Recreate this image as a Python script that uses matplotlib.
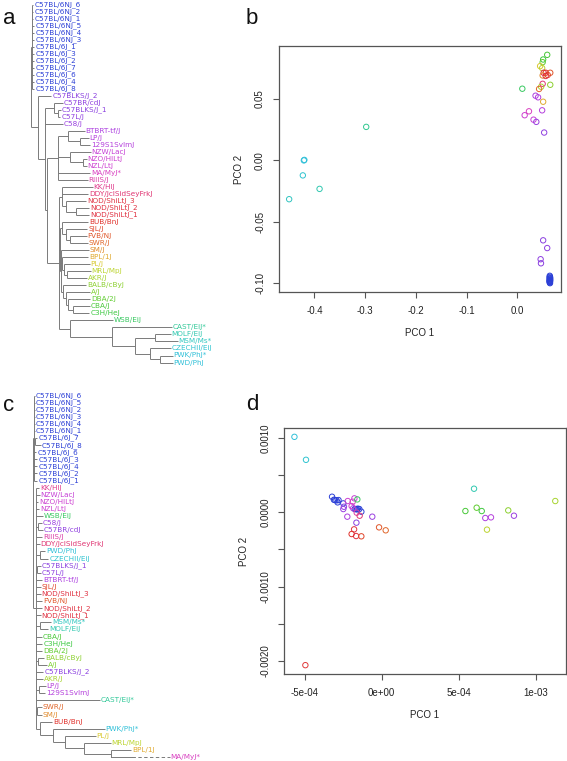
import matplotlib
matplotlib.use('Agg')
import matplotlib.pyplot as plt

# ------------------------------------------------------------------ data
strain_colors = {
    'C57BL/6NJ': '#2b3fd6', 'C57BL/6J': '#2b3fd6',
    'C57BLKS/J': '#8a3fe0', 'C57BR/cdJ': '#8f3fe0', 'C57L/J': '#8f3fe0',
    'C58/J': '#9a3fe0', 'BTBRT-tf/J': '#ac3fe0', 'LP/J': '#b43fdc',
    '129S1SvImJ': '#b43fdc', 'NZW/LacJ': '#c63fd6', 'NZO/HlLtJ': '#cc3fd0',
    'NZL/LtJ': '#cc3fd0', 'MA/MyJ*': '#d83fc0', 'RIIIS/J': '#dc3fa8',
    'KK/HlJ': '#e03a8c', 'DDY/JclSidSeyFrkJ': '#e03572', 'NOD/ShiLtJ': '#e03040',
    'BUB/BnJ': '#e0302a', 'SJL/J': '#e0442a', 'FVB/NJ': '#e0562a',
    'SWR/J': '#e0662a', 'SM/J': '#e08a2a', 'BPL/1J': '#e0aa30',
    'PL/J': '#d8c830', 'MRL/MpJ': '#bcd430', 'AKR/J': '#a8d430',
    'BALB/cByJ': '#8cd030', 'A/J': '#7ed030', 'DBA/2J': '#60cc30',
    'CBA/J': '#48c838', 'C3H/HeJ': '#3cc840', 'WSB/EiJ': '#38c860',
    'CAST/EiJ*': '#30c898', 'MOLF/EiJ': '#30c8b0', 'MSM/Ms*': '#30c8c0',
    'CZECHII/EiJ': '#30c4d0', 'PWK/PhJ*': '#30c0d8', 'PWD/PhJ': '#30c0d8',
}

# Tree a (branch lengths)
tree_a_newick = """
((C57BL/6NJ_6:0.7,C57BL/6NJ_2:0.7,C57BL/6NJ_1:0.7,C57BL/6NJ_5:1.7,C57BL/6NJ_4:1.7,
C57BL/6NJ_3:1.7,C57BL/6J_1:1.7,C57BL/6J_3:1.7,C57BL/6J_2:2.0,C57BL/6J_7:2.0,
C57BL/6J_6:2.0,C57BL/6J_4:1.7,C57BL/6J_8:1.7):1.8,
(C57BLKS/J_2:13,
 ((C57BR/cdJ:8.5,(C57BLKS/J_1:3,C57L/J:2.5):3.5):9,
  C58/J:17.5,
  (((BTBRT-tf/J:16.5,(LP/J:8.5,129S1SvImJ:9.5):12):10,
    (NZW/LacJ:20.5,(NZO/HlLtJ:3.5,NZL/LtJ:3.5):13):12,
    MA/MyJ*:32,RIIIS/J:29.5):11,
   ((KK/HlJ:31,DDY/JclSidSeyFrkJ:26.5,(NOD/ShiLtJ_3:20,(NOD/ShiLtJ_2:13,NOD/ShiLtJ_1:13):10):4.5):2.2,
    ((BUB/BnJ:26,(SJL/J:21,(FVB/NJ:16.5,SWR/J:17.5):4):4):2,
     (SM/J:28,
      (BPL/1J:26,(PL/J:25.5,(MRL/MpJ:23.5,AKR/J:20):3):2):1.5,
      (BALB/cByJ:23,(A/J:23.5,(DBA/2J:22,(CBA/J:16.5,C3H/HeJ:16):5):2):3):2.5):0.5):0.7,
    (WSB/EiJ:43,
     (CAST/EiJ*:60,((MOLF/EiJ:15.5,MSM/Ms*:22.5):20,
      (CZECHII/EiJ:20.5,(PWK/PhJ*:12.5,PWD/PhJ:12.5):10):15):23.3):41.7):10.7):12.3):2):7):7.5);
"""

# Tree c
tree_c_newick = """
((C57BL/6NJ_6:0.8,C57BL/6NJ_5:0.8,C57BL/6NJ_2:0.8,C57BL/6NJ_3:0.8,C57BL/6NJ_4:0.8,
C57BL/6NJ_1:0.8,(C57BL/6J_7:2,C57BL/6J_8:5.5):1,C57BL/6J_6:2.1,C57BL/6J_3:3.3,
C57BL/6J_4:3.3,C57BL/6J_2:3.3,C57BL/6J_1:3.3):1.5,
(KK/HlJ:3.3,NZW/LacJ:4,NZO/HlLtJ:2.3,NZL/LtJ:3.3,WSB/EiJ:7.3,
 (C58/J:4,C57BR/cdJ:5.3):2,RIIIS/J:6.6,DDY/JclSidSeyFrkJ:4,
 (PWD/PhJ:5.3,CZECHII/EiJ:8.6):4,(C57BLKS/J_1:3.8,C57L/J:3.8):1.5,
 BTBRT-tf/J:6.6,SJL/J:5,NOD/ShiLtJ_3:5,FVB/NJ:6.6,NOD/ShiLtJ_2:6.6,NOD/ShiLtJ_1:5,
 (MSM/Ms*:11.3,MOLF/EiJ:8.6):4,CBA/J:6,C3H/HeJ:6.6,DBA/2J:6.6,
 (BALB/cByJ:5.8,A/J:9.1):2.5,C57BLKS/J_2:7.6,AKR/J:7.6,
 (LP/J:6.5,129S1SvImJ:5.8):3.5,CAST/EiJ*:64,(SWR/J:4.5,SM/J:4.5):1.5,
 (BUB/BnJ:12,(PWK/PhJ*:51.2,(PL/J:30.5,(MRL/MpJ:26.5,(BPL/1J:20.3,MA/MyJ*:58.8):26.7):19):11.7):13.3):4.5):3);
"""
# the MA/MyJ* branch in tree c is drawn broken (dashed) after this much of its length
tree_c_breaks = {'MA/MyJ*': 21.0}

# Panel b: PCO 1 / PCO 2 of the strains
b_pco1 = [-0.450, -0.423, -0.420, -0.421, -0.390, -0.298, 0.0099,
          0.059, 0.051, 0.050, 0.045, 0.049, 0.052, 0.056, 0.065, 0.050, 0.060, 0.056,
          0.065, 0.050, 0.047, 0.043, 0.036, 0.041, 0.051, 0.0145, 0.023, 0.049,
          0.032, 0.0375, 0.053, 0.051, 0.059, 0.046, 0.0467,
          0.064, 0.0645, 0.0635, 0.065, 0.064, 0.0645, 0.064, 0.065, 0.0635,
          0.064, 0.0645, 0.064, 0.0645]
b_pco2 = [-0.0316, -0.0122, 0.0004, 0.0000, -0.0232, 0.0273, 0.0584,
          0.0860, 0.0822, 0.0800, 0.0768, 0.0752, 0.0714, 0.0714, 0.0714, 0.0692, 0.0696, 0.0688,
          0.0616, 0.0624, 0.0600, 0.0582, 0.0527, 0.0514, 0.0478, 0.0368, 0.0400, 0.0408,
          0.0332, 0.0314, 0.0227, -0.0651, -0.0714, -0.0805, -0.0838,
          -0.0940, -0.0948, -0.0955, -0.0960, -0.0965, -0.0970, -0.0975, -0.0978, -0.0982,
          -0.0986, -0.0990, -0.0995, -0.1000]
b_colors = ['#30c4c0', '#30c4d0', '#30c0d8', '#30c0d8', '#30c8b0', '#30c890', '#38c860',
            '#48c838', '#40c840', '#60cc30', '#d8c830', '#bcd430', '#e03040', '#e0302a',
            '#e0562a', '#e08a2a', '#e0442a', '#e03040',
            '#8cd030', '#e03572', '#a8d430', '#e0662a', '#ac3fe0', '#b43fdc', '#e0aa30',
            '#cc3fd0', '#d83fc0', '#b43fdc', '#c63fd6', '#9a3fe0', '#8f3fe0',
            '#8a3fe0', '#8f3fe0', '#8f3fe0', '#8a3fe0'] + ['#2b3fd6'] * 13

# Panel d
d_pco1 = [-5.66e-4, -4.91e-4, -4.95e-4,
          -3.22e-4, -3.03e-4, -2.93e-4, -2.80e-4, -2.86e-4, -2.49e-4, -1.75e-4, -1.60e-4,
          -1.45e-4, -1.32e-4, -1.68e-4, -1.55e-4, -3.10e-4,
          -2.45e-4, -2.49e-4, -2.23e-4, -1.64e-4, -0.61e-4, -1.85e-4,
          -2.20e-4, -1.88e-4, -1.77e-4, -1.62e-4, -1.43e-4, -1.95e-4,
          -1.58e-4,
          -1.79e-4, -1.95e-4, -1.66e-4, -1.32e-4, -0.17e-4, 0.26e-4,
          5.99e-4, 5.43e-4, 6.16e-4, 6.49e-4, 6.72e-4, 7.09e-4, 6.83e-4, 8.21e-4, 8.58e-4, 1.126e-3]
d_pco2 = [1.019e-3, 7.09e-4, -2.061e-3,
          2.11e-4, 1.66e-4, 1.62e-4, 1.66e-4, 1.35e-4, 1.21e-4, 0.45e-4, 0.40e-4,
          0.45e-4, 0.09e-4, 0.45e-4, 0.50e-4, 1.70e-4,
          0.76e-4, 0.45e-4, -0.58e-4, -1.39e-4, -0.58e-4, 0.55e-4,
          1.53e-4, 1.44e-4, 1.89e-4, -0.04e-4, -0.45e-4, 0.85e-4,
          1.75e-4,
          -2.29e-4, -2.92e-4, -3.19e-4, -3.23e-4, -2.02e-4, -2.42e-4,
          3.19e-4, 0.18e-4, 0.63e-4, 0.18e-4, -0.76e-4, -0.67e-4, -2.33e-4, 0.27e-4, -0.45e-4, 1.53e-4]
d_colors = ['#30c0d8', '#30c4d0', '#e03a3a'] + ['#2b3fd6'] * 13 + \
           ['#8f3fe0', '#9a3fe0', '#ac3fe0', '#8a3fe0', '#9a3fe0', '#b43fdc'] + \
           ['#cc3fd0', '#d83fc0', '#c63fd6', '#dc3fa8', '#e03572', '#cc3fd0'] + \
           ['#38c860'] + \
           ['#e03040', '#e0302a', '#e03040', '#e0442a', '#e0562a', '#e0662a'] + \
           ['#30c8b0', '#48c838', '#60cc30', '#40c840', '#ac3fe0', '#b43fdc',
            '#bcd430', '#8cd030', '#9a3fe0', '#a8d430']

b_xticks = [-0.4, -0.3, -0.2, -0.1, 0.0]
b_xticklabels = ['-0.4', '-0.3', '-0.2', '-0.1', '0.0']
b_yticks = [-0.10, -0.05, 0.00, 0.05]
b_yticklabels = ['-0.10', '-0.05', '0.00', '0.05']
d_xticks = [-5e-4, 0.0, 5e-4, 1e-3]
d_xticklabels = ['-5e-04', '0e+00', '5e-04', '1e-03']
d_yticks = [-0.0020, -0.0015, -0.0010, -0.0005, 0.0, 0.0005, 0.0010]
d_yticklabels = ['-0.0020', '', '-0.0010', '', '0.0000', '', '0.0010']

# ------------------------------------------------------------------ helpers
def parse_newick(s):
    s = ''.join(s.split()).rstrip(';')
    pos = 0

    def node():
        nonlocal pos
        children = []
        if s[pos] == '(':
            pos += 1
            while True:
                children.append(node())
                if s[pos] == ',':
                    pos += 1
                else:
                    pos += 1
                    break
        start = pos
        while pos < len(s) and s[pos] not in ':,()':
            pos += 1
        name = s[start:pos]
        bl = 0.0
        if pos < len(s) and s[pos] == ':':
            pos += 1
            start = pos
            while pos < len(s) and s[pos] not in ',()':
                pos += 1
            bl = float(s[start:pos])
        return {'name': name, 'bl': bl, 'children': children}
    return node()


def layout(nd, x0, leaves):
    nd['x'] = x0 + nd['bl']
    if nd['children']:
        for c in nd['children']:
            layout(c, nd['x'], leaves)
        ys = [c['y'] for c in nd['children']]
        nd['y'] = (min(ys) + max(ys)) / 2.0
    else:
        nd['y'] = float(len(leaves))
        leaves.append(nd)


def strain_of(name):
    base, _, suf = name.rpartition('_')
    return base if (base and suf.isdigit()) else name


LINE = '#7a7a7a'
LABEL_SIZE = 5.2


def draw_tree(ax, nd, y0, dy, breaks):
    Y = lambda v: y0 + v * dy
    if nd['children']:
        ys = [Y(c['y']) for c in nd['children']]
        ax.plot([nd['x'], nd['x']], [min(ys), max(ys)], color=LINE, lw=0.7,
                solid_capstyle='butt')
        for c in nd['children']:
            if c['name'] in breaks:
                xb = nd['x'] + breaks[c['name']]
                ax.plot([nd['x'], xb], [Y(c['y'])] * 2, color=LINE, lw=0.7)
                ax.plot([xb, c['x']], [Y(c['y'])] * 2, color=LINE, lw=0.7,
                        ls=(0, (3.5, 2.5)))
            else:
                ax.plot([nd['x'], c['x']], [Y(c['y'])] * 2, color=LINE, lw=0.7,
                        solid_capstyle='butt')
            draw_tree(ax, c, y0, dy, breaks)
    else:
        ax.text(nd['x'] + 1.2, Y(nd['y']), nd['name'], fontsize=LABEL_SIZE,
                color=strain_colors[strain_of(nd['name'])], ha='left',
                va='center', family='DejaVu Sans')


# ------------------------------------------------------------------ figure
W, H = 567, 761
fig = plt.figure(figsize=(W / 100, H / 100), dpi=100)

# overlay axes in pixel units for the two trees and panel letters
ov = fig.add_axes([0, 0, 1, 1])
ov.set_xlim(0, W)
ov.set_ylim(H, 0)
ov.axis('off')

ta = parse_newick(tree_a_newick)
leaves_a = []
layout(ta, 30.5, leaves_a)
draw_tree(ov, ta, 4.5, 7.02, {})

tc = parse_newick(tree_c_newick)
leaves_c = []
layout(tc, 32.5, leaves_c)
draw_tree(ov, tc, 395.5, 7.09, tree_c_breaks)

for letter, (lx, ly) in zip('abcd', [(3.5, 24), (245.5, 24), (3, 411), (246.5, 410)]):
    ov.text(lx, ly, letter, fontsize=16, family='Liberation Sans', ha='left',
            va='baseline', color='#111111')


def style_scatter(ax, h_px, w_px):
    for sp in ax.spines.values():
        sp.set_color('#555555')
        sp.set_linewidth(0.9)
    ax.tick_params(axis='both', direction='out', length=4.3, width=0.8,
                   color='#555555', labelsize=7, labelcolor='#222222', pad=5.5)
    for lab in ax.get_yticklabels():
        lab.set_rotation(90)
        lab.set_va('center')
    for lab in ax.get_xticklabels() + ax.get_yticklabels():
        lab.set_family('Liberation Sans')
    ax.set_xlabel('PCO 1', fontsize=7, family='Liberation Sans', color='#222222',
                  va='center')
    ax.set_ylabel('PCO 2', fontsize=7, family='Liberation Sans', color='#222222',
                  va='center')
    ax.xaxis.set_label_coords(0.5, -41.0 / h_px)
    ax.yaxis.set_label_coords(-40.0 / w_px, 0.5)


# Panel b
axb = fig.add_axes([278.7 / W, 1 - 292.3 / H, 282.0 / W, 246.6 / H])
axb.scatter(b_pco1, b_pco2, s=15, facecolors='none', edgecolors=b_colors,
            linewidths=0.7)
axb.margins(0.04)
axb.set_xticks(b_xticks)
axb.set_xticklabels(b_xticklabels)
axb.set_yticks(b_yticks)
axb.set_yticklabels(b_yticklabels)
style_scatter(axb, 246.6, 282.0)

# Panel d
axd = fig.add_axes([284.0 / W, 1 - 674.3 / H, 281.7 / W, 246.6 / H])
axd.scatter(d_pco1, d_pco2, s=15, facecolors='none', edgecolors=d_colors,
            linewidths=0.7)
axd.margins(0.04)
axd.set_xticks(d_xticks)
axd.set_xticklabels(d_xticklabels)
axd.set_yticks(d_yticks)
axd.set_yticklabels(d_yticklabels)
style_scatter(axd, 246.6, 281.7)

fig.savefig('out.png', dpi=100)
